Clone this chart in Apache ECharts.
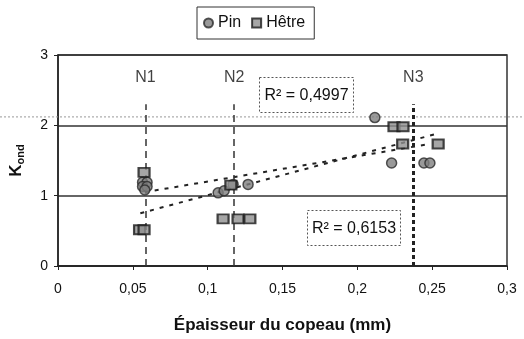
<!DOCTYPE html>
<html><head><meta charset="utf-8">
<script src="https://cdn.jsdelivr.net/npm/echarts@6/dist/echarts.min.js"></script>
<style>html,body{margin:0;padding:0;background:#fff}#c{width:524px;height:339px}</style>
</head><body><div id="c"></div>
<script>
const xTicks = [0, 0.05, 0.1, 0.15, 0.2, 0.25, 0.3];
const yTicks = [0, 1, 2, 3];
const pinX = [0.0565, 0.0595, 0.0565, 0.0595, 0.058, 0.107, 0.111, 0.117, 0.127, 0.2117, 0.2229, 0.2445, 0.2485];
const pinY = [1.19, 1.19, 1.13, 1.13, 1.08, 1.04, 1.07, 1.16, 1.16, 2.11, 1.465, 1.465, 1.465];
const hetreX = [0.0575, 0.0545, 0.0575, 0.1155, 0.1103, 0.1203, 0.1282, 0.2245, 0.2305, 0.2303, 0.254];
const hetreY = [1.33, 0.515, 0.515, 1.15, 0.67, 0.67, 0.67, 1.98, 1.98, 1.735, 1.735];
const trendPinX = [0.058, 0.247];
const trendPinY = [1.05, 1.73];
const trendHetreX = [0.055, 0.253];
const trendHetreY = [0.75, 1.88];
const nLabels = ['N1', 'N2', 'N3'];
const nX = [0.0584, 0.1177, 0.2374];
const nLineTop = 2.3;
const nLabelY = 2.68;
const refLineY = 2.12;
const r2Texts = ['R² = 0,4997', 'R² = 0,6153'];

const zip = (a, b) => a.map((v, i) => [v, b[i]]);
const chart = echarts.init(document.getElementById('c'));
const font = 'Liberation Sans, Arial, sans-serif';
const lineStyles = [
  {type: [7, 5], width: 1.5, color: '#333'},
  {type: [7, 5], width: 1.5, color: '#333'},
  {type: [4, 3], width: 3, color: '#222'}
];
const r2Box = (left, top, w, text) => ({type: 'group', left: left, top: top, z: 10, children: [
  {type: 'rect', shape: {x: 0, y: 0, width: w, height: 35}, style: {fill: '#fff', stroke: '#555', lineWidth: 1, lineDash: [2, 2]}},
  {type: 'text', x: w / 2, y: 18, style: {text: text, fontSize: 16, fontFamily: font, fill: '#111', align: 'center', verticalAlign: 'middle'}}
]});
chart.setOption({
  animation: false,
  textStyle: {fontFamily: font},
  grid: {left: 58, right: 17, top: 55, bottom: 72, show: true, borderColor: '#333', borderWidth: 1.5},
  legend: {
    top: 7, left: 197,
    borderColor: '#333', borderWidth: 1, padding: [8, 9, 8, 6],
    itemGap: 10, itemWidth: 9, itemHeight: 9,
    textStyle: {fontSize: 16, fontFamily: font, color: '#111', padding: [0, 0, 0, 0]},
    data: [{name: 'Pin', icon: 'circle'}, {name: 'Hêtre', icon: 'rect'}]
  },
  xAxis: {
    type: 'value', min: 0, max: 0.3, interval: 0.05,
    axisLine: {lineStyle: {color: '#222', width: 1.5}},
    axisTick: {show: true, length: 4, inside: false, lineStyle: {color: '#222'}},
    splitLine: {show: false},
    axisLabel: {fontSize: 14, color: '#111', margin: 16, formatter: v => {
      const t = xTicks.find(x => Math.abs(x - v) < 1e-9);
      return t === undefined ? '' : String(t).replace('.', ',');
    }},
    name: 'Épaisseur du copeau (mm)', nameLocation: 'middle', nameGap: 51,
    nameTextStyle: {fontSize: 17, fontWeight: 'bold', color: '#111', fontFamily: font}
  },
  yAxis: {
    type: 'value', min: 0, max: 3, interval: 1,
    axisLine: {show: true, lineStyle: {color: '#222', width: 1.5}},
    axisTick: {show: true, length: 4, lineStyle: {color: '#222'}},
    splitLine: {show: true, lineStyle: {color: '#333', width: 1.5}},
    axisLabel: {fontSize: 14, color: '#111', margin: 10, formatter: v => String(yTicks.find(y => y === v) ?? '')},
    name: '{k|K}{s|ond}', nameLocation: 'middle', nameGap: 32,
    nameTextStyle: {rich: {
      k: {fontSize: 17, fontWeight: 'bold', color: '#111', fontFamily: font},
      s: {fontSize: 11, fontWeight: 'bold', color: '#111', fontFamily: font, padding: [8, 0, 0, 0]}
    }}
  },
  series: [
    {
      name: 'Pin', type: 'scatter', data: zip(pinX, pinY), symbol: 'circle', symbolSize: 10, z: 5,
      itemStyle: {color: '#808080', borderColor: '#2a2a2a', borderWidth: 1.5}
    },
    {
      name: 'Hêtre', type: 'scatter', data: zip(hetreX, hetreY), symbol: 'rect', symbolSize: [11, 9], z: 5,
      itemStyle: {color: '#909090', borderColor: '#1a1a1a', borderWidth: 2}
    },
    {
      name: 'trendPin', type: 'line', data: zip(trendPinX, trendPinY), symbol: 'none', z: 4,
      lineStyle: {color: '#222', width: 2, type: [4, 6]}
    },
    {
      name: 'trendHetre', type: 'line', data: zip(trendHetreX, trendHetreY), symbol: 'none', z: 4,
      lineStyle: {color: '#222', width: 2, type: [4, 6]}
    },
    {
      name: 'nLabels', type: 'scatter', symbolSize: 0, z: 6,
      data: nX.map((x, i) => ({value: [x, nLabelY], name: nLabels[i]})),
      label: {show: true, position: 'inside', formatter: '{b}', fontSize: 16, color: '#111', fontFamily: font},
      markLine: {
        silent: true, symbol: 'none', label: {show: false},
        data: nX.map((x, i) => [
          {coord: [x, 0], lineStyle: lineStyles[i]},
          {coord: [x, nLineTop]}
        ])
      }
    }
  ],
  graphic: [r2Box(259, 77, 94, r2Texts[0]), r2Box(307, 210, 93, r2Texts[1])]
});
const refPx = chart.convertToPixel({yAxisIndex: 0}, refLineY);
chart.setOption({graphic: [
  r2Box(259, 77, 94, r2Texts[0]), r2Box(307, 210, 93, r2Texts[1]),
  {type: 'line', z: 1, shape: {x1: 0, y1: refPx, x2: 524, y2: refPx}, style: {stroke: '#999', lineWidth: 1, lineDash: [2, 2]}}
]});
</script></body></html>
